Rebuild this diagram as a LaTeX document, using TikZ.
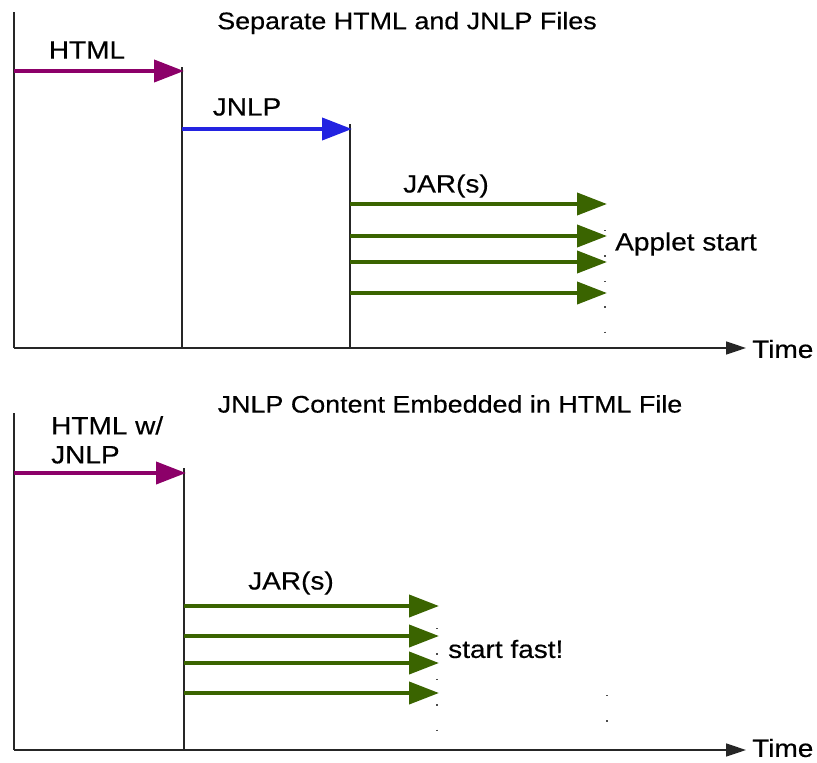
\documentclass[tikz,border=0pt]{standalone}
\usepackage{fontspec}
\setmainfont{Liberation Sans}[FakeStretch=1.12, FakeBold=0.4]
\usetikzlibrary{arrows.meta}
\definecolor{htmlc}{RGB}{140,0,105}
\definecolor{jnlpc}{RGB}{35,35,225}
\definecolor{jarc}{RGB}{58,100,0}
\tikzset{
  axis/.style={line width=1.6pt, black!85},
  timeaxis/.style={line width=1.6pt, black!85, -{Triangle[length=20pt,width=13pt]}},
  fetch/.style={line width=4pt, -{Triangle[length=30pt,width=22pt]}, shorten >=-2pt},
  lbl/.style={font=\fontsize{25}{28}\selectfont, inner sep=0pt},
  ttl/.style={font=\fontsize{24}{26}\selectfont, inner sep=0pt},
  sparsedots/.style={line width=1.4pt, black!70, dash pattern=on 1.4pt off 24pt}
}
\begin{document}
\begin{tikzpicture}[x=1pt,y=-1pt]
\useasboundingbox (0,0) rectangle (817,763);
% ---------- top panel ----------
\node[ttl] (t1) at (407,23) {Separate HTML and JNLP Files};
\coordinate (a0top) at (14,12);
\coordinate (a0) at (14,348);
\coordinate (tend1) at (746,348);
\node[lbl, anchor=west] (time1) at (752,349) {Time};
\draw[axis] (a0top) -- (a0);
\draw[timeaxis] (a0) -- (tend1);
% HTML
\coordinate (h0) at (14,71);
\coordinate (h1) at (182,71);
\coordinate (h1b) at (182,348);
\draw[axis] (182,67) -- (h1b);
\draw[fetch, htmlc] (h0) -- (h1);
\node[lbl] (lhtml) at (87,50) {HTML};
% JNLP
\coordinate (j0) at (182,129);
\coordinate (j1) at (350,129);
\coordinate (j1b) at (350,348);
\draw[axis] (350,124) -- (j1b);
\draw[fetch, jnlpc] (j0) -- (j1);
\node[lbl] (ljnlp) at (247,107) {JNLP};
% JARs
\foreach \y/\n in {204/1,236/2,262/3,293/4}{
  \coordinate (ja\n) at (350,\y);
  \coordinate (jb\n) at (605,\y);
  \draw[fetch, jarc] (ja\n) -- (jb\n);
}
\node[lbl] (ljar1) at (446,186) {JAR(s)};
\node[lbl, anchor=west] (lapplet) at (615,244) {Applet start};
\coordinate (d1a) at (605,230);
\coordinate (d1b) at (605,345);
\draw[sparsedots] (d1a) -- (d1b);
% ---------- bottom panel ----------
\node[ttl] (t2) at (450,404) {JNLP Content Embedded in HTML File};
\coordinate (b0top) at (14,413);
\coordinate (b0) at (14,750);
\coordinate (tend2) at (746,750);
\node[lbl, anchor=west] (time2) at (752,748) {Time};
\draw[axis] (b0top) -- (b0);
\draw[timeaxis] (b0) -- (tend2);
% HTML w/ JNLP
\coordinate (k0) at (14,473);
\coordinate (k1) at (184,473);
\coordinate (k1b) at (184,750);
\draw[axis] (184,468) -- (k1b);
\draw[fetch, htmlc] (k0) -- (k1);
\node[lbl, anchor=north west, align=left, font=\fontsize{25}{29}\selectfont] (lhtml2) at (51,416) {HTML w/\\JNLP};
% JARs
\foreach \y/\n in {606/1,636/2,663/3,693/4}{
  \coordinate (ka\n) at (184,\y);
  \coordinate (kb\n) at (437,\y);
  \draw[fetch, jarc] (ka\n) -- (kb\n);
}
\node[lbl] (ljar2) at (291,583) {JAR(s)};
\node[lbl, anchor=west] (lfast) at (448,649) {start fast!};
\coordinate (d2a) at (437,628);
\coordinate (d2b) at (437,745);
\draw[sparsedots] (d2a) -- (d2b);
\coordinate (d3a) at (607,695);
\coordinate (d3b) at (607,722);
\draw[sparsedots] (d3a) -- (d3b);
\end{tikzpicture}
\end{document}
